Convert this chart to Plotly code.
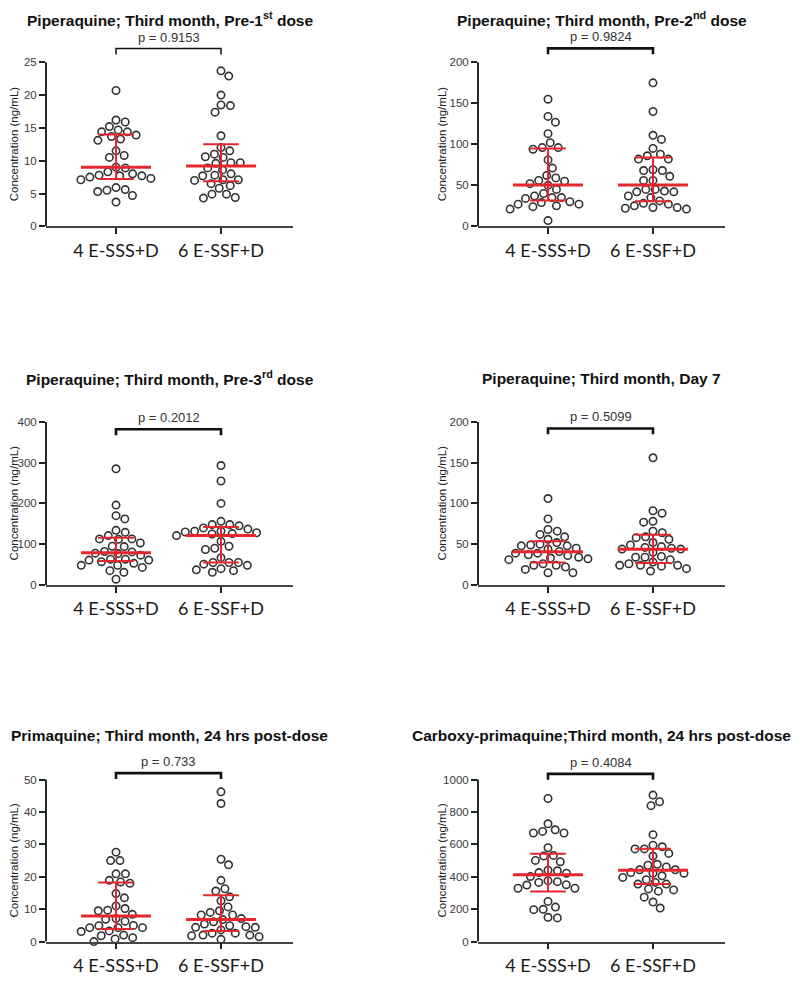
import math
import numpy as np
import plotly.graph_objects as go

# ---------------- data ----------------
groups = ["4 E-SSS+D", "6 E-SSF+D"]

titles = [
    "Piperaquine; Third month, Pre-1<sup>st</sup> dose",
    "Piperaquine; Third month, Pre-2<sup>nd</sup> dose",
    "Piperaquine; Third month, Pre-3<sup>rd</sup> dose",
    "Piperaquine; Third month, Day 7",
    "Primaquine; Third month, 24 hrs post-dose",
    "Carboxy-primaquine;Third month, 24 hrs post-dose",
]
p_values = ["p = 0.9153", "p = 0.9824", "p = 0.2012", "p = 0.5099", "p = 0.733", "p = 0.4084"]
y_title = "Concentration (ng/mL)"

y_ticks = [
    [0, 5, 10, 15, 20, 25],
    [0, 50, 100, 150, 200],
    [0, 100, 200, 300, 400],
    [0, 50, 100, 150, 200],
    [0, 10, 20, 30, 40, 50],
    [0, 200, 400, 600, 800, 1000],
]

p1_sss = [20.7, 15.9, 16.2, 15.2, 14.4, 13.9, 13.3, 14.7, 13.1, 13.7, 14.4, 11.5, 10.8, 10.5, 9.0,
          8.9, 8.0, 7.7, 7.5, 7.1, 7.3, 7.7, 7.8, 8.3, 5.9, 5.5, 5.3, 5.6, 4.7, 3.7]
p1_ssf = [23.7, 22.9, 20.0, 18.5, 18.4, 17.4, 13.8, 12.0, 11.5, 11.0, 10.5, 10.6, 8.9, 9.6, 9.7,
          9.7, 8.6, 8.0, 7.7, 7.8, 7.1, 6.5, 6.2, 7.0, 7.1, 5.8, 4.9, 4.9, 4.3, 4.4]
p2_sss = [155, 127, 134, 113, 96, 94, 96, 102, 81, 71, 62, 56, 52, 50, 55, 59, 45, 40, 35, 34,
          35, 37, 29, 27, 24, 21, 25, 27, 30, 7]
p2_ssf = [175, 140, 111, 106, 95, 86, 82, 82, 88, 69, 68, 68, 61, 56, 56, 45, 42, 37, 42, 43,
          45, 35, 28, 25, 23, 21, 22, 23, 27, 31]
p3_sss = [285, 196, 170, 162, 134, 129, 121, 113, 112, 103, 113, 95, 94, 82, 78, 73, 77, 81, 63,
          61, 53, 48, 48, 57, 61, 63, 35, 43, 31, 14]
p3_ssf = [293, 255, 200, 156, 148, 148, 145, 140, 137, 132, 132, 130, 128, 126, 125, 121, 107,
          95, 90, 87, 67, 55, 55, 55, 51, 48, 40, 37, 35, 31]
p4_sss = [106, 81, 66, 68, 62, 59, 56, 48, 45, 50, 44, 48, 49, 52, 41, 39, 37, 34, 32, 31, 33,
          36, 39, 26, 24, 19, 15, 15, 22, 24]
p4_ssf = [156, 88, 91, 77, 78, 64, 58, 56, 59, 66, 49, 46, 44, 45, 47, 52, 40, 44, 35, 34, 34,
          31, 26, 24, 23, 17, 20, 24, 24, 28]
p5_sss = [27.6, 25, 25, 20.9, 20.9, 18.4, 18, 18.9, 14.8, 13.5, 11, 10.2, 9.7, 9.5, 8.4, 6.9,
          7.1, 6.3, 5, 4.3, 4.3, 3.3, 4.3, 4.9, 3.1, 2, 1.2, 0, 0.8, 1.8]
p5_ssf = [46.2, 42.6, 25.4, 23.7, 18.9, 16.3, 15.6, 13.8, 12.6, 10.7, 9, 9.5, 8.2, 8.2, 7.1,
          6.1, 6.8, 4.9, 4.4, 4.4, 4.6, 5.4, 3.6, 2.6, 2, 1.8, 0.7, 1.5, 2, 2.6]
p6_sss = [883, 727, 680, 670, 670, 690, 579, 528, 532, 493, 501, 437, 422, 426, 441, 402, 376,
          365, 349, 329, 329, 351, 370, 248, 197, 213, 199, 146, 150]
p6_ssf = [904, 863, 839, 660, 585, 572, 572, 595, 528, 544, 477, 471, 461, 443, 422, 426, 422,
          443, 406, 396, 382, 355, 365, 355, 325, 311, 319, 274, 244, 207]

series = [(p1_sss, p1_ssf), (p2_sss, p2_ssf), (p3_sss, p3_ssf),
          (p4_sss, p4_ssf), (p5_sss, p5_ssf), (p6_sss, p6_ssf)]

# median, lower quartile, upper quartile per group (as drawn)
medians = [(9.0, 9.2), (50.4, 50.4), (79, 121), (40.6, 43.8), (7.9, 6.8), (412, 440)]
q1s = [(7.2, 6.85), (31.5, 30.6), (59, 55), (27.6, 26.8), (3.9, 3.3), (309, 355)]
q3s = [(14.0, 12.5), (94.8, 84), (115.6, 142), (53.5, 61.7), (18.2, 14.3), (542, 573)]

bracket_y = [27.1, 217, 382, 192, 52, 1035]

# ---------------- layout geometry (pixels) ----------------
W, H = 800, 995
cols_px = [(46, 293), (478, 725)]
rows_px = [(223, 57, 37), (586, 421, 421), (947, 783, 772)]  # bottom, top tick, plot top
title_y_px = [13, 377, 738]
ytitle_x_px = [14, 442]
xr = [-0.667, 1.686]

MED_HALF = 0.333
CAP_HALF = 0.17
DOT_D = 9.4   # px spacing for swarm
RED = "#e6262c"


def swarm(vals, ppu, d):
    vals = np.asarray(vals, float)
    order = np.argsort(-vals)
    placed = []
    offs = np.zeros(len(vals))
    for i in order:
        y = vals[i] * ppu
        cands = [0.0]
        for (xj, yj) in placed:
            dy = y - yj
            if abs(dy) < d:
                dx = math.sqrt(d * d - dy * dy)
                cands += [xj + dx, xj - dx]
        cands.sort(key=lambda c: (round(abs(c), 3), -c))
        for c in cands:
            if all((c - xj) ** 2 + (y - yj) ** 2 >= d * d - 1e-6 for xj, yj in placed):
                offs[i] = c
                placed.append((c, y))
                break
    return offs


fig = go.Figure()
layout = dict(width=W, height=H, margin=dict(l=0, r=0, t=0, b=0),
              paper_bgcolor="white", plot_bgcolor="white", showlegend=False,
              font=dict(family="Liberation Sans, Arial", color="#222"))
shapes = []
annotations = []

for k in range(6):
    r, c = divmod(k, 2)
    n = "" if k == 0 else str(k + 1)
    bottom, ttop, ptop = rows_px[r]
    x0, x1 = cols_px[c]
    tmax = y_ticks[k][-1]
    ymax = tmax * (bottom - ptop) / (bottom - ttop)
    ppu_y = (bottom - ttop) / tmax
    ppu_x = (x1 - x0) / (xr[1] - xr[0])

    layout["xaxis" + n] = dict(
        domain=[x0 / W, x1 / W], anchor="y" + n, range=xr,
        tickvals=[0, 1], ticktext=groups, showgrid=False, zeroline=False,
        showline=True, linecolor="#444", linewidth=1.5,
        ticks="outside", ticklen=6, tickwidth=1.5, tickcolor="#222",
        tickfont=dict(family="Lato, Liberation Sans", size=18, color="#1a1a1a"),
        ticklabelstandoff=1, fixedrange=True)
    layout["yaxis" + n] = dict(
        domain=[1 - bottom / H, 1 - ptop / H], anchor="x" + n, range=[0, ymax],
        tickvals=y_ticks[k], showgrid=False, zeroline=False, showline=False,
        ticks="outside", ticklen=6, tickwidth=1.5, tickcolor="#222",
        tickfont=dict(size=11.5, color="#3a3a3a"), fixedrange=True)

    # y axis line only up to the last tick
    shapes.append(dict(type="line", xref=f"x{n} domain", yref=f"y{n}", x0=0, x1=0,
                       y0=0, y1=tmax, line=dict(color="#111", width=1.8)))

    for g in range(2):
        vals = series[k][g]
        offs = swarm(vals, ppu_y, DOT_D)
        fig.add_trace(go.Scatter(
            x=g + offs / ppu_x, y=vals, mode="markers", xaxis="x" + n, yaxis="y" + n,
            marker=dict(symbol="circle-open", size=7.4, color="#333",
                        line=dict(width=1.6, color="#333")),
            cliponaxis=False, hoverinfo="y"))

    for g in range(2):
        fig.add_trace(go.Scatter(
            x=[g - CAP_HALF, g + CAP_HALF, None, g - CAP_HALF, g + CAP_HALF, None, g, g],
            y=[q1s[k][g], q1s[k][g], None, q3s[k][g], q3s[k][g], None, q1s[k][g], q3s[k][g]],
            mode="lines", line=dict(color=RED, width=2), xaxis="x" + n, yaxis="y" + n,
            hoverinfo="skip", cliponaxis=False))
        fig.add_trace(go.Scatter(
            x=[g - MED_HALF, g + MED_HALF], y=[medians[k][g], medians[k][g]],
            mode="lines", line=dict(color=RED, width=3), xaxis="x" + n, yaxis="y" + n,
            hoverinfo="skip", cliponaxis=False))

    leg = 6 / ppu_y
    b = bracket_y[k]
    fig.add_trace(go.Scatter(
        x=[0, 0, 1, 1], y=[b - leg, b, b, b - leg], mode="lines",
        line=dict(color="#111", width=1.5 if k == 0 else 2.6),
        xaxis="x" + n, yaxis="y" + n, hoverinfo="skip", cliponaxis=False))

    annotations.append(dict(text=p_values[k], xref="x" + n, yref="y" + n, x=0.5, y=b,
                            yanchor="bottom", xanchor="center", yshift=2, showarrow=False,
                            font=dict(size=13, color="#333")))
    annotations.append(dict(text="<b>" + titles[k] + "</b>", xref="paper", yref="paper",
                            x=(x0 + x1) / 2 / W, y=1 - title_y_px[r] / H,
                            xanchor="center", yanchor="middle", showarrow=False,
                            font=dict(size=15.5, color="#111", family="Liberation Sans, Arial")))
    annotations.append(dict(text=y_title, xref="paper", yref="paper", textangle=-90,
                            x=ytitle_x_px[c] / W, y=1 - (bottom + ttop) / 2 / H,
                            xanchor="center", yanchor="middle", showarrow=False,
                            font=dict(size=11.5, color="#222")))

layout["shapes"] = shapes
layout["annotations"] = annotations
fig.update_layout(**layout)
fig.write_html("out.html", config={"displayModeBar": False},
               post_script="document.body.style.margin='0';document.body.style.overflow='hidden';")
